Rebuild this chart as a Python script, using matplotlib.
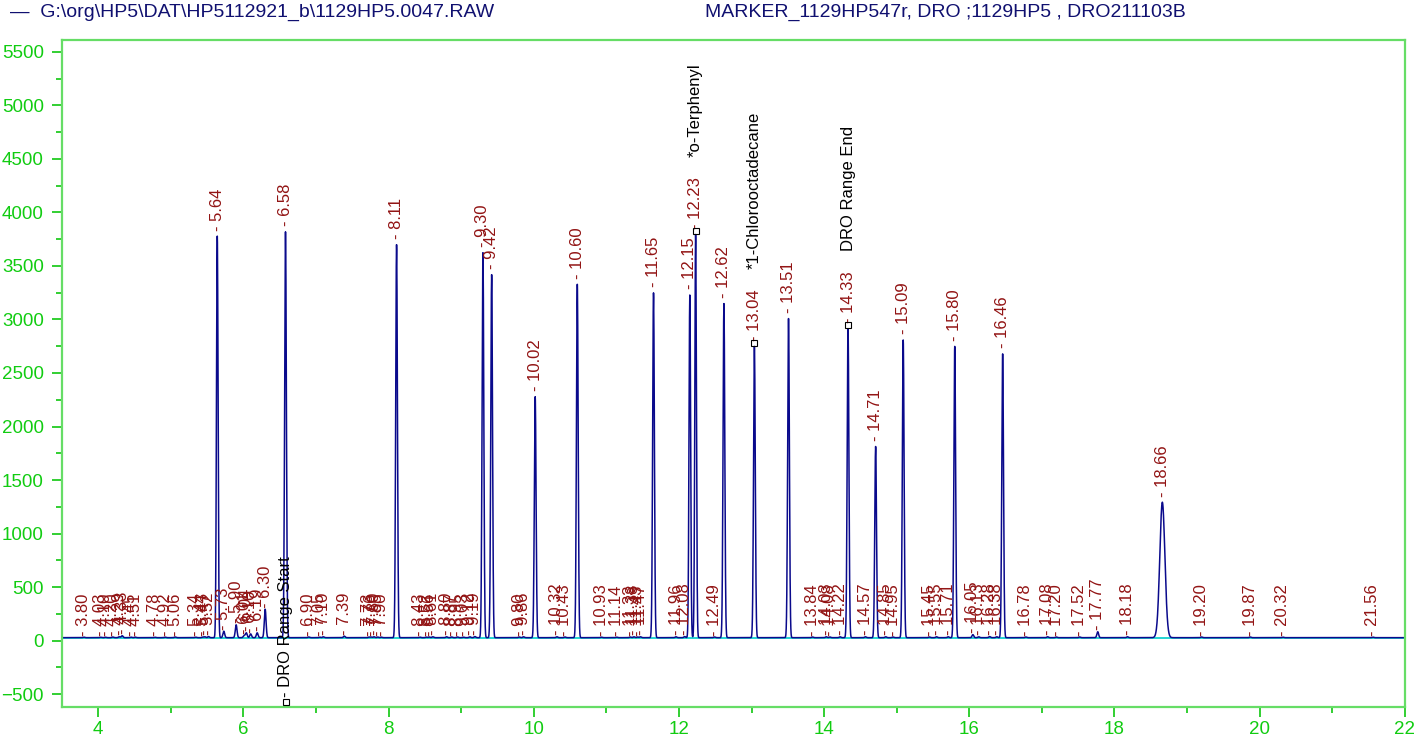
import numpy as np
import matplotlib
matplotlib.use("Agg")
import matplotlib.pyplot as plt
from matplotlib.ticker import MultipleLocator

plt.rcParams['font.family'] = ['Liberation Sans', 'DejaVu Sans']

# big peaks: retention time (min), height, width (sigma, min)
big_rt = [5.64, 6.58, 8.11, 9.30, 9.42, 10.02, 10.60, 11.65, 12.15, 12.23,
          12.62, 13.04, 13.51, 14.33, 14.71, 15.09, 15.80, 16.46, 18.66]
big_h = [3750, 3790, 3670, 3595, 3390, 2250, 3300, 3220, 3200, 3765,
         3120, 2720, 2980, 2885, 1785, 2780, 2720, 2650, 1265]
big_w = [0.011, 0.012, 0.012, 0.012, 0.012, 0.012, 0.012, 0.012, 0.011, 0.011,
         0.012, 0.012, 0.012, 0.012, 0.012, 0.012, 0.012, 0.012, 0.035]

# small labelled peaks
small_rt = [3.80, 4.03, 4.10, 4.20, 4.29, 4.33, 4.45, 4.51, 4.78, 4.92, 5.06,
            5.34, 5.44, 5.47, 5.52, 5.73, 5.90, 6.01, 6.04, 6.10, 6.19, 6.30,
            6.90, 7.05, 7.10, 7.39, 7.73, 7.76, 7.80, 7.85, 7.90,
            8.43, 8.52, 8.56, 8.61, 8.80, 8.87, 8.95, 9.03, 9.12, 9.19,
            9.80, 9.86, 10.32, 10.43, 10.93, 11.14, 11.33, 11.38, 11.43, 11.47,
            11.96, 12.08, 12.49, 13.84, 14.03, 14.08, 14.22, 14.57, 14.85, 14.95,
            15.45, 15.55, 15.71, 16.05, 16.13, 16.28, 16.38, 16.78, 17.08, 17.20,
            17.52, 17.77, 18.18, 19.20, 19.87, 20.32, 21.56]
small_h = [5, 4, 4, 6, 8, 18, 5, 5, 4, 5, 6,
           5, 6, 8, 10, 60, 120, 20, 45, 35, 45, 265,
           6, 5, 8, 14, 5, 6, 8, 6, 5,
           5, 5, 6, 8, 8, 6, 6, 5, 8, 10,
           6, 8, 8, 6, 5, 5, 6, 8, 6, 8,
           8, 10, 6, 6, 8, 6, 8, 8, 8, 6,
           6, 8, 8, 28, 8, 10, 8, 6, 8, 6,
           6, 55, 8, 6, 6, 5, 5]

baseline = 28

# compound / range markers
marker_rt = [12.23, 13.04, 14.33]
marker_txt = ['*o-Terphenyl', '*1-Chlorooctadecane', 'DRO Range End']
range_start_rt = 6.58

t = np.arange(3.5, 22.0, 0.002)
signal = np.full_like(t, baseline, dtype=float)
for rt, h, w in zip(big_rt, big_h, big_w):
    signal += h * np.exp(-0.5 * ((t - rt) / w) ** 2)
for rt, h in zip(small_rt, small_h):
    signal += h * np.exp(-0.5 * ((t - rt) / 0.012) ** 2)

fig = plt.figure(figsize=(14.24, 7.47), dpi=100)
ax = fig.add_axes([0.0435, 0.0535, 0.943, 0.893])

ax.axhline(baseline - 3, color='#00cccc', lw=1.2, zorder=1)
ax.plot(t, signal, color='#0a0a8c', lw=1.1, zorder=2)

red = '#921414'
for rt, h in zip(big_rt, big_h):
    ax.annotate(f'- {rt:.2f}', xy=(rt, h + baseline), xytext=(0, 4),
                textcoords='offset points', rotation=90, ha='center',
                va='bottom', color=red, fontsize=12)
for rt, h in zip(small_rt, small_h):
    ax.annotate(f'- {rt:.2f}', xy=(rt, max(h + baseline, 20)), xytext=(0, 1),
                textcoords='offset points', rotation=90, ha='center',
                va='bottom', color=red, fontsize=12)

for rt, txt in zip(marker_rt, marker_txt):
    h = big_h[big_rt.index(rt)] + baseline
    ax.plot([rt], [h + 35], marker='s', ms=5, mfc='none', mec='black',
            mew=0.8, zorder=3)
    ax.annotate(txt, xy=(rt, h), xytext=(0, 56), textcoords='offset points',
                rotation=90, ha='center', va='bottom', color='black',
                fontsize=12)

ax.plot([range_start_rt], [-575], marker='s', ms=5, mfc='none', mec='black',
        mew=0.8, zorder=3)
ax.annotate('- DRO Range Start', xy=(range_start_rt, -575), xytext=(0, 4),
            textcoords='offset points', rotation=90, ha='center', va='bottom',
            color='black', fontsize=12)

ax.set_xlim(3.5, 22)
ax.set_ylim(-620, 5610)
ax.xaxis.set_major_locator(MultipleLocator(2))
ax.xaxis.set_minor_locator(MultipleLocator(1))
ax.yaxis.set_major_locator(MultipleLocator(500))
ax.yaxis.set_minor_locator(MultipleLocator(250))

green = '#66dd66'
for s in ax.spines.values():
    s.set_color(green)
    s.set_linewidth(1.6)
ax.tick_params(which='major', direction='out', length=7, width=1.3,
               color='#22cc22', labelcolor='#11cc11', labelsize=13.5, pad=6)
ax.tick_params(which='minor', direction='out', length=4, width=1.3,
               color='#22cc22')
ax.tick_params(axis='x', pad=3)

fig.text(0.007, 0.983, '\u2014  G:\\org\\HP5\\DAT\\HP5112921_b\\1129HP5.0047.RAW',
         color='#101070', fontsize=14, va='center')
fig.text(0.495, 0.983, 'MARKER_1129HP547r, DRO ;1129HP5 , DRO211103B',
         color='#101070', fontsize=14, va='center')

fig.savefig('out.png', dpi=100)
